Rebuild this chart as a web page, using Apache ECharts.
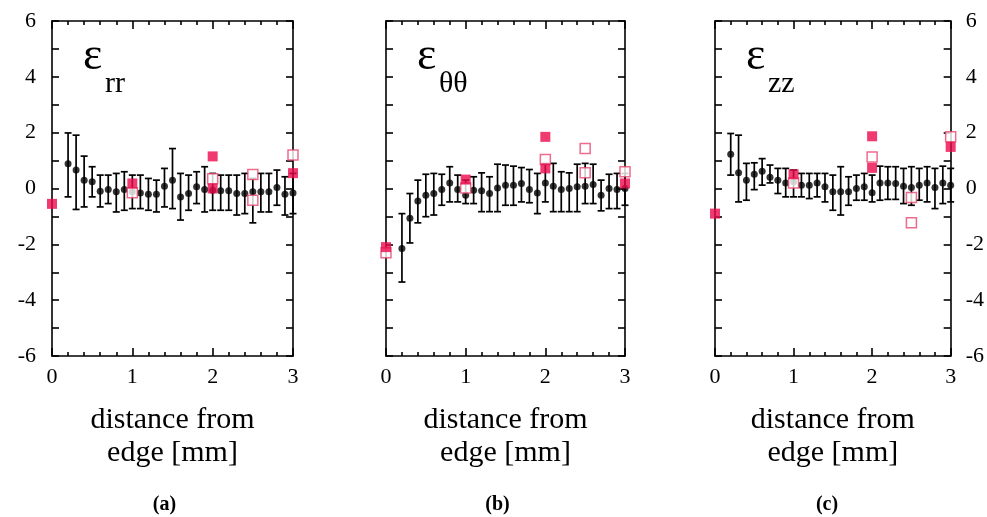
<!DOCTYPE html>
<html>
<head>
<meta charset="utf-8">
<script src="https://cdn.jsdelivr.net/npm/echarts@6/dist/echarts.min.js"></script>
<style>html,body{margin:0;padding:0;background:#fff;}#c{width:987px;height:517px;}</style>
</head>
<body>
<div id="c"></div>
<script>
// ---------- data ----------
const xPos = [0.2,0.3,0.4,0.5,0.6,0.7,0.8,0.9,1.0,1.1,1.2,1.3,1.4,1.5,1.6,1.7,1.8,1.9,2.0,2.1,2.2,2.3,2.4,2.5,2.6,2.7,2.8,2.9,3.0];

// panel (a) eps_rr
const rrMean = [0.89,0.66,0.30,0.24,-0.10,-0.04,-0.12,-0.04,-0.12,-0.16,-0.21,-0.21,0.08,0.30,-0.30,-0.18,0.06,-0.04,-0.06,-0.08,-0.08,-0.18,-0.18,-0.12,-0.12,-0.12,0.04,-0.21,-0.16];
const rrHi   = [1.99,1.91,1.16,0.78,0.48,0.48,0.54,0.60,0.48,0.48,0.36,0.30,0.72,1.43,0.54,0.48,0.60,0.78,0.54,0.48,0.48,0.48,0.54,0.36,0.54,0.54,0.66,0.42,0.54];
const rrLo   = [-0.30,-0.75,-0.66,-0.30,-0.66,-0.54,-0.84,-0.78,-0.72,-0.72,-0.78,-0.84,-0.66,-0.72,-1.13,-0.78,-0.54,-0.84,-0.78,-0.78,-0.78,-0.95,-0.90,-1.23,-0.84,-0.84,-0.60,-0.95,-0.90];
const rrFilled = [[0,-0.55],[1,0.18],[2,1.15],[2,0.0],[3,0.55]];
const rrOpen   = [[1,-0.15],[2,0.35],[2.5,0.5],[2.5,-0.42],[3,1.2]];

// panel (b) eps_theta-theta
const ttMean = [-2.15,-1.07,-0.45,-0.24,-0.18,-0.04,0.20,-0.04,-0.24,-0.06,-0.08,-0.18,0.02,0.12,0.12,0.18,-0.04,-0.16,0.20,0.08,-0.04,0.00,0.06,0.08,0.14,-0.24,0.00,-0.04,0.00];
const ttHi   = [-0.90,-0.18,0.30,0.51,0.54,0.51,0.78,0.48,0.30,0.42,0.56,0.42,0.87,0.84,0.80,0.75,0.68,0.54,0.90,0.90,0.60,0.56,0.87,0.90,0.87,0.30,0.51,0.54,0.54];
const ttLo   = [-3.35,-1.95,-1.23,-1.01,-0.95,-0.60,-0.48,-0.48,-0.54,-0.54,-0.83,-0.83,-0.83,-0.60,-0.60,-0.48,-0.51,-0.90,-0.48,-0.83,-0.83,-0.83,-0.83,-0.54,-0.54,-0.80,-0.72,-0.72,-0.60];
const ttFilled = [[0,-2.1],[1,0.32],[2,1.85],[2,0.72],[3,0.18]];
const ttOpen   = [[0,-2.3],[1,0.02],[2,1.04],[2.5,1.43],[2.5,0.56],[3,0.6]];

// panel (c) eps_zz
const zzMean = [1.23,0.56,0.30,0.51,0.62,0.40,0.30,0.20,0.24,0.12,0.12,0.20,0.06,-0.12,-0.12,-0.12,0.00,0.06,-0.15,0.20,0.20,0.18,0.08,0.04,0.12,0.20,0.04,0.20,0.12];
const zzHi   = [1.97,1.91,0.90,0.92,1.07,0.84,0.72,0.72,0.66,0.54,0.54,0.54,0.54,0.48,0.78,0.42,0.48,0.54,0.48,0.80,0.78,0.78,0.72,0.78,0.72,0.78,0.72,0.80,0.72];
const zzLo   = [0.48,-0.48,-0.42,-0.04,0.12,0.20,-0.18,-0.30,-0.30,-0.30,-0.36,-0.30,-0.48,-0.78,-0.95,-0.60,-0.42,-0.42,-0.48,-0.42,-0.39,-0.39,-0.54,-0.60,-0.42,-0.48,-0.72,-0.54,-0.48];
const zzFilled = [[0,-0.9],[1,0.51],[2,1.87],[2,0.74],[3,1.49]];
const zzOpen   = [[1,0.2],[2,1.13],[2.5,-0.32],[2.5,-1.23],[3,1.85]];

const yTicks = [-6,-4,-2,0,2,4,6];
const xTicks = [0,1,2,3];
const xName = 'distance from\nedge [mm]';
const panelTags = ['(a)','(b)','(c)'];
const epsMain = ['ε','ε','ε'];
const epsSub = ['rr','θθ','zz'];

// ---------- layout ----------
const FONT = '"Liberation Serif",serif';
const grids = [
  {left:52, top:21, width:241, height:335},
  {left:386, top:21, width:239, height:335},
  {left:715, top:21, width:240, height:335}
];
const panels = [
  {mean:rrMean, hi:rrHi, lo:rrLo, filled:rrFilled, open:rrOpen},
  {mean:ttMean, hi:ttHi, lo:ttLo, filled:ttFilled, open:ttOpen},
  {mean:zzMean, hi:zzHi, lo:zzLo, filled:zzFilled, open:zzOpen}
];
const RED = '#eb0a4b';
const ls = () => ({color:'#000', width:1.6});

function xAxisCfg(i, pos) {
  const a = {
    gridIndex:i, type:'value', position:pos,
    min:0, max:3, interval:1,
    axisLine:{show:true, onZero:false, lineStyle:ls()},
    axisTick:{show:true, inside:true, length:8, lineStyle:ls()},
    minorTick:{show:true, splitNumber:5, length:4, lineStyle:ls()},
    splitLine:{show:false}
  };
  if (pos === 'bottom') {
    a.axisLabel = {show:true, fontSize:22, fontFamily:FONT, color:'#000', margin:10};
    a.name = xName; a.nameLocation = 'middle'; a.nameGap = 48;
    a.nameTextStyle = {fontSize:30, lineHeight:33, fontFamily:FONT, color:'#000'};
  } else {
    a.axisLabel = {show:false};
  }
  return a;
}
function yAxisCfg(i, pos, showLabel) {
  return {
    gridIndex:i, type:'value', position:pos,
    min:-6, max:6, interval:2,
    axisLine:{show:true, onZero:false, lineStyle:ls()},
    axisTick:{show:true, inside:true, length:7, lineStyle:ls()},
    minorTick:{show:true, splitNumber:2, length:7, lineStyle:ls()},
    splitLine:{show:false},
    axisLabel:{show:showLabel, fontSize:22, fontFamily:FONT, color:'#000', margin:pos === 'left' ? 16 : 15}
  };
}

const xAxes = [], yAxes = [], series = [], graphics = [];
grids.forEach((g, i) => {
  xAxes.push(xAxisCfg(i, 'bottom'));
  xAxes.push(xAxisCfg(i, 'top'));
  yAxes.push(yAxisCfg(i, 'left', i === 0));
  yAxes.push(yAxisCfg(i, 'right', i === 2));

  const p = panels[i];
  const xi = 2*i, yi = 2*i;
  series.push({
    type:'custom', xAxisIndex:xi, yAxisIndex:yi,
    encode:{x:0, y:[1,2]},
    data:xPos.map((x, k) => [x, p.lo[k], p.hi[k]]),
    renderItem:(params, api) => {
      const x = api.value(0), lo = api.value(1), hi = api.value(2);
      const t = api.coord([x, hi]), b = api.coord([x, lo]);
      const w = 3.5;
      const st = () => ({stroke:'#000', lineWidth:1.7});
      return {type:'group', children:[
        {type:'line', shape:{x1:t[0], y1:t[1], x2:b[0], y2:b[1]}, style:st()},
        {type:'line', shape:{x1:t[0]-w, y1:t[1], x2:t[0]+w, y2:t[1]}, style:st()},
        {type:'line', shape:{x1:b[0]-w, y1:b[1], x2:b[0]+w, y2:b[1]}, style:st()}
      ]};
    }
  });
  series.push({
    type:'scatter', xAxisIndex:xi, yAxisIndex:yi,
    symbol:'circle', symbolSize:7, itemStyle:{color:'#000'},
    data:xPos.map((x, k) => [x, p.mean[k]])
  });
  series.push({
    type:'scatter', xAxisIndex:xi, yAxisIndex:yi,
    symbol:'rect', symbolSize:10, itemStyle:{color:'#fff', borderColor:'#e9476f', borderWidth:1.5},
    data:p.open
  });
  series.push({
    type:'scatter', xAxisIndex:xi, yAxisIndex:yi,
    symbol:'rect', symbolSize:10, itemStyle:{color:RED},
    data:p.filled
  });

  graphics.push({type:'text', left:g.left+31, top:34,
    style:{text:epsMain[i], font:'46px '+FONT, fill:'#000'}});
  graphics.push({type:'text', left:g.left+53, top:69,
    style:{text:epsSub[i], font:'30px '+FONT, fill:'#000'}});
  graphics.push({type:'text', x:g.left + g.width/2 - 8, y:505,
    style:{text:panelTags[i], font:'bold 20px '+FONT, fill:'#000', align:'center', verticalAlign:'middle'}});
});

const chart = echarts.init(document.getElementById('c'));
chart.setOption({
  backgroundColor:'#fff',
  animation:false,
  grid:grids,
  xAxis:xAxes,
  yAxis:yAxes,
  series:series,
  graphic:graphics
});
</script>
</body>
</html>
